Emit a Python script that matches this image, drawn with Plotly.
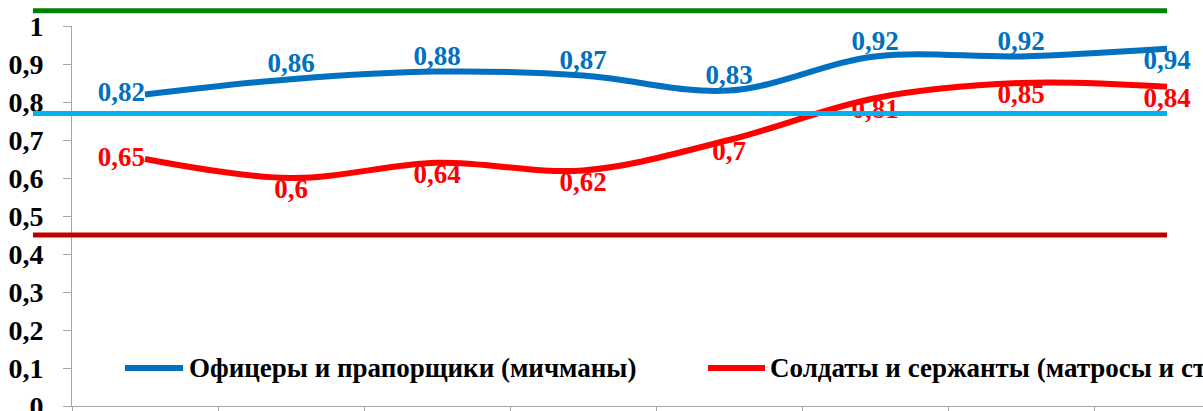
import plotly.graph_objects as go

# Survey periods (category positions along the x axis)
periods = list(range(8))

# Index values per group
officers = [0.82, 0.86, 0.88, 0.87, 0.83, 0.92, 0.92, 0.94]
soldiers = [0.65, 0.60, 0.64, 0.62, 0.70, 0.81, 0.85, 0.84]

officer_name = "Офицеры и прапорщики (мичманы)"
soldier_name = "Солдаты и сержанты (матросы и старшины)"

# y axis ticks
y_ticks = [0, 0.1, 0.2, 0.3, 0.4, 0.5, 0.6, 0.7, 0.8, 0.9, 1]

# Reference levels drawn as horizontal bands
levels = [1.04, 0.77, 0.45]
level_colors = ["#008000", "#00B0F0", "#C00000"]

BLUE = "#0070C0"
RED = "#FF0000"
FONT = "Liberation Serif"

W, H = 1203, 411
ML, MR, MT, MB = 72, 0, 26, 5
PLOT_W = W - ML - MR
CAT_PX = 146  # pixel width of one category slot

officer_pos = ["middle left"] + ["top center"] * 6 + ["bottom center"]
soldier_pos = ["middle left"] + ["bottom center"] * 7


def fmt(v):
    s = f"{v:.2f}".rstrip("0").rstrip(".")
    return s.replace(".", ",")


def bold(s):
    return f"<b>{s}</b>"


def px_to_paper(px):
    return (px - ML) / PLOT_W


fig = go.Figure()

# value labels first, so the curves pass over them
fig.add_trace(go.Scatter(
    x=periods, y=officers, mode="text", text=[bold(fmt(v)) for v in officers],
    textposition=officer_pos, textfont=dict(color=BLUE, family=FONT, size=27),
    showlegend=False, cliponaxis=False, hoverinfo="skip"))
fig.add_trace(go.Scatter(
    x=periods, y=soldiers, mode="text", text=[bold(fmt(v)) for v in soldiers],
    textposition=soldier_pos, textfont=dict(color=RED, family=FONT, size=27),
    showlegend=False, cliponaxis=False, hoverinfo="skip"))

fig.add_trace(go.Scatter(
    x=periods, y=officers, mode="lines", name=officer_name, showlegend=False,
    line=dict(color=BLUE, width=6, shape="spline", smoothing=1)))
fig.add_trace(go.Scatter(
    x=periods, y=soldiers, mode="lines", name=soldier_name, showlegend=False,
    line=dict(color=RED, width=6, shape="spline", smoothing=1)))

# horizontal level bands
for lv, col in zip(levels, level_colors):
    fig.add_shape(type="line", xref="paper", yref="paper",
                  x0=px_to_paper(33), x1=px_to_paper(1167), y0=lv, y1=lv,
                  line=dict(color=col, width=5), layer="above")

# legend row inside the plot, near the bottom
legend_y = 0.1
legend_items = [(officer_name, BLUE, 125, 183, 187),
                (soldier_name, RED, 708, 765, 768)]
for name, col, k0, k1, tx in legend_items:
    fig.add_shape(type="line", xref="paper", yref="paper",
                  x0=px_to_paper(k0), x1=px_to_paper(k1),
                  y0=legend_y, y1=legend_y,
                  line=dict(color=col, width=6))
    fig.add_annotation(x=px_to_paper(tx), y=legend_y, xref="paper", yref="paper",
                       text=bold(name), showarrow=False,
                       xanchor="left", yanchor="middle",
                       font=dict(family=FONT, size=27, color="black"))

fig.update_layout(
    width=W, height=H,
    margin=dict(l=ML, r=MR, t=MT, b=MB, autoexpand=False),
    paper_bgcolor="white", plot_bgcolor="white",
    showlegend=False,
    xaxis=dict(
        range=[-0.5, -0.5 + PLOT_W / CAT_PX], showgrid=False, zeroline=False,
        automargin=False,
        showline=True, linecolor="#A6A6A6", linewidth=1,
        tickmode="array", tickvals=[k - 0.5 for k in range(9)],
        ticks="outside", ticklen=6, tickcolor="#A6A6A6",
        showticklabels=False,
    ),
    yaxis=dict(
        range=[0, 1], showgrid=False, zeroline=False, automargin=False,
        showline=True, linecolor="#A6A6A6", linewidth=1,
        tickmode="array", tickvals=y_ticks,
        ticktext=[bold(fmt(v)) for v in y_ticks],
        ticks="outside", ticklen=8, tickcolor="#A6A6A6",
        ticklabelstandoff=14, ticklabeloverflow="allow",
        tickfont=dict(family=FONT, size=28, color="black"),
    ),
)

fig.write_html("out.html")
